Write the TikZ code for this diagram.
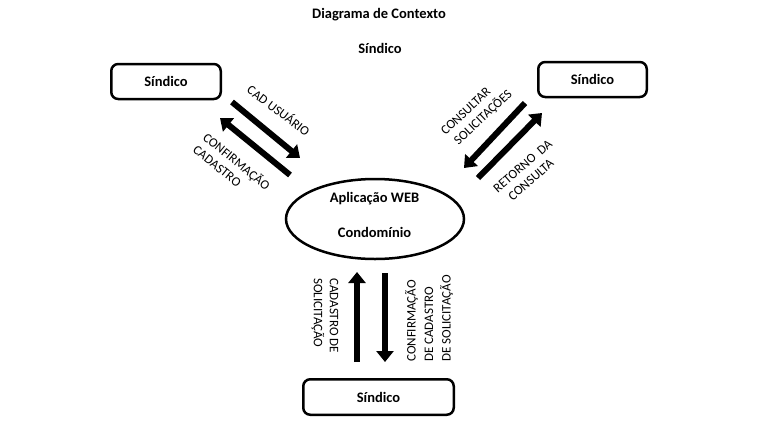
\documentclass[tikz,border=0pt]{standalone}
\usepackage{fontspec}
\setmainfont{Carlito}
\usetikzlibrary{arrows.meta,shapes.geometric}
\begin{document}
\begin{tikzpicture}[x=1pt,y=-1pt,
  box/.style={draw,line width=2.5pt,rounded corners=7pt,inner sep=0,
    font=\fontsize{14.5}{17}\selectfont\bfseries},
  bold/.style={font=\fontsize{14.5}{17}\selectfont\bfseries,inner sep=0},
  lbl/.style={font=\fontsize{13}{16}\selectfont,inner sep=0,align=left},
  flow/.style={line width=6pt,-{Triangle[width=17pt,length=11pt]}}]
\useasboundingbox[fill=white] (0,0) rectangle (763,440);

\node[bold] (title) at (379,15) {Diagrama de Contexto};
\node[bold] (sub) at (380,48) {Síndico};

\node[box,minimum width=109.5pt,minimum height=35pt] (s1) at (166,81.5) {Síndico};
\node[box,minimum width=108.5pt,minimum height=35pt] (s2) at (592.5,79.5) {Síndico};
\node[box,minimum width=150.5pt,minimum height=35.5pt] (s3) at (378.5,397) {Síndico};

\node[draw,ellipse,line width=2.5pt,minimum width=178pt,minimum height=80pt] (app) at (375,219) {};
\node[bold] (app1) at (374.5,199) {Aplicação WEB};
\node[bold] (app2) at (374.5,232) {Condomínio};

% left pair
\coordinate (a1s) at (232,102); \coordinate (a1e) at (300,158);
\coordinate (a2s) at (290,175); \coordinate (a2e) at (220,118);
\draw[flow] (a1s) -- (a1e);
\draw[flow] (a2s) -- (a2e);
\node[lbl,rotate=-37] (l1) at (279,110) {CAD USUÁRIO};
\node[lbl,rotate=-39] (l2) at (232,167) {CONFIRMAÇÃO\\CADASTRO};

% right pair
\coordinate (b1s) at (525,103); \coordinate (b1e) at (464,168);
\coordinate (b2s) at (478,178); \coordinate (b2e) at (542,113);
\draw[flow] (b1s) -- (b1e);
\draw[flow] (b2s) -- (b2e);
\node[lbl,rotate=43] (r1) at (477,113) {CONSULTAR\\\ SOLICITAÇÕES};
\node[lbl,rotate=41] (r2) at (528,172) {RETORNO\ \ DA\\\ \ CONSULTA};

% bottom pair
\coordinate (c1s) at (357,362); \coordinate (c1e) at (357,272);
\coordinate (c2s) at (385,273); \coordinate (c2e) at (385,362);
\draw[flow] (c1s) -- (c1e);
\draw[flow] (c2s) -- (c2e);
\node[lbl,rotate=-90,anchor=west] (d1) at (325,278) {CADASTRO DE\\SOLICITAÇÃO};
\node[lbl,rotate=90,anchor=west,font=\fontsize{13}{17.5}\selectfont] (d2) at (429,362) {CONFIRMAÇÃO\\DE CADASTRO\\DE SOLICITAÇÃO};
\end{tikzpicture}
\end{document}
